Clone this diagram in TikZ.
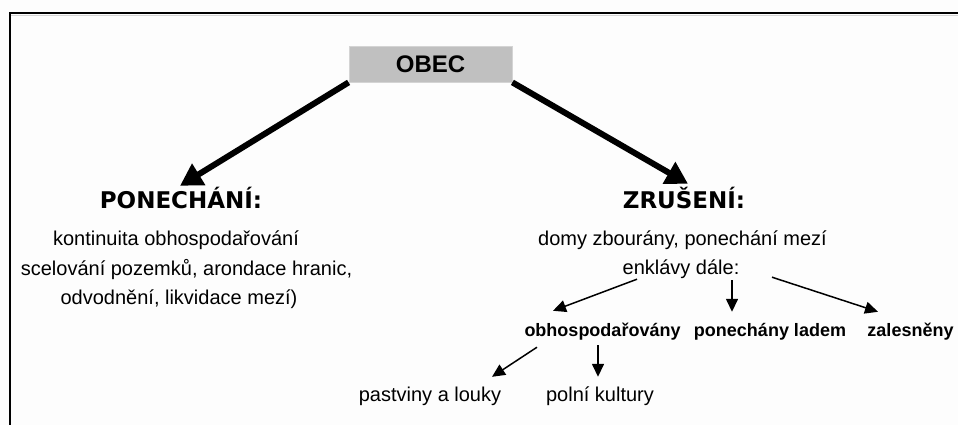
\documentclass[tikz,border=0pt]{standalone}
\usepackage{fontspec}
\setmainfont{Liberation Sans}
\newfontfamily\headfont{DejaVu Sans}
\usetikzlibrary{arrows.meta}
\definecolor{boxgray}{HTML}{C0C0C0}
\definecolor{boxedge}{HTML}{D4D4D4}
\definecolor{bg}{HTML}{FDFDFD}
\tikzset{
  txt/.style={font=\fontsize{20}{24}\selectfont, inner sep=0pt, anchor=base, text height=14pt, text depth=4pt},
  head/.style={font=\headfont\bfseries\fontsize{23}{27}\selectfont, inner sep=0pt, anchor=base, text height=17pt, text depth=0pt},
  sub/.style={font=\bfseries\fontsize{18}{22}\selectfont, inner sep=0pt, anchor=base, text height=13pt, text depth=4pt},
  obecbox/.style={fill=boxgray, draw=boxedge, line width=0.8pt, minimum width=163pt, minimum height=36pt, inner sep=0pt, font=\bfseries\fontsize{24}{28}\selectfont},
  bigarrow/.style={line width=6pt, -{Triangle[length=22pt,width=24pt]}},
  smallarrow/.style={line width=1.5pt, -{Triangle[length=13pt,width=12pt]}},
}
\begin{document}
\begin{tikzpicture}[x=1pt,y=-1pt]
\useasboundingbox (0,0) rectangle (958,425);
\fill[bg] (0,0) rectangle (958,425);
% frame
\draw[line width=1pt, draw=boxedge] (11,15.8) -- (958,15.8);
\draw[line width=2.5pt] (10,425) -- (10,13) -- (958,13);
% top node
\node[obecbox] (obec) at (430.5,64) {OBEC};
% headings
\node[head] (pon) at (181,208) {PONECHÁNÍ:};
\node[head] (zru) at (684,208) {ZRUŠENÍ:};
% left block
\node[txt] (l1) at (176,245) {kontinuita obhospodařování};
\node[txt] (l2) at (186.5,275) {scelování pozemků, arondace hranic,};
\node[txt] (l3) at (179,304.5) {odvodnění, likvidace mezí)};
% right block
\node[txt] (r1) at (682.5,245) {domy zbourány, ponechání mezí};
\node[txt] (enk) at (681,274) {enklávy dále:};
% sub categories
\node[sub] (obh) at (602.5,336) {obhospodařovány};
\node[sub] (pla) at (770,336) {ponechány ladem};
\node[sub] (zal) at (910.5,336) {zalesněny};
% bottom
\node[txt] (pas) at (430,401) {pastviny a louky};
\node[txt] (pol) at (600,401) {polní kultury};
% big arrows
\draw[bigarrow] (obec.south west) -- ([xshift=-1pt,yshift=5pt]pon.north);
\draw[bigarrow] (obec.south east) -- ([xshift=4pt,yshift=7pt]zru.north);
% small arrows
\draw[smallarrow] ([xshift=-44pt,yshift=-1pt]enk.south) -- ([xshift=-49.5pt,yshift=12pt]obh.north);
\draw[smallarrow] ([xshift=51pt,yshift=-2pt]enk.south) -- ([xshift=-38pt,yshift=11pt]pla.north);
\draw[smallarrow] ([xshift=91pt,yshift=1pt]enk.south) -- ([xshift=-32.5pt,yshift=11pt]zal.north);
\draw[smallarrow] ([xshift=-65.5pt,yshift=-7pt]obh.south) -- ([xshift=62pt,yshift=10pt]pas.north);
\draw[smallarrow] ([xshift=-4.5pt,yshift=-5pt]obh.south) -- ([xshift=-2pt,yshift=10pt]pol.north);
\end{tikzpicture}
\end{document}
